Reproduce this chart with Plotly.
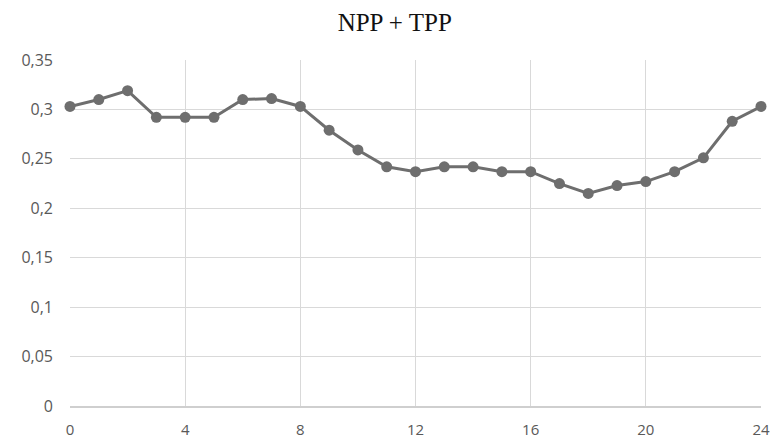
import plotly.graph_objects as go

hours = list(range(0, 25))
values = [0.303, 0.310, 0.319, 0.292, 0.292, 0.292, 0.310, 0.311, 0.303,
          0.279, 0.259, 0.242, 0.237, 0.242, 0.242, 0.237, 0.237, 0.225,
          0.215, 0.223, 0.227, 0.237, 0.251, 0.288, 0.303]

x_ticks = [0, 4, 8, 12, 16, 20, 24]
y_ticks = [0, 0.05, 0.1, 0.15, 0.2, 0.25, 0.3, 0.35]
y_labels = ["0", "0,05", "0,1", "0,15", "0,2", "0,25", "0,3", "0,35"]
title = "NPP + TPP"

fig = go.Figure()
fig.add_trace(go.Scatter(
    x=hours, y=values, mode="lines+markers",
    line=dict(color="#6e6e6e", width=3),
    marker=dict(color="#6e6e6e", size=11),
    cliponaxis=False,
))

fig.update_layout(
    width=771, height=441,
    margin=dict(l=70, r=10, t=60, b=35, autoexpand=False),
    paper_bgcolor="white", plot_bgcolor="white",
    showlegend=False,
    title=dict(text=title, x=0.512, xanchor="center", y=0.95, yanchor="middle",
               font=dict(family="Liberation Serif", size=25, color="#111111")),
    font=dict(family="Open Sans", size=16, color="#595959"),
)
fig.update_xaxes(
    range=[0, 24], tickvals=x_ticks, ticktext=[str(t) for t in x_ticks],
    showgrid=True, gridcolor="#d9d9d9", gridwidth=1,
    showline=True, linecolor="#cfcfcf", linewidth=1.5,
    zeroline=False, ticks="", ticklabelstandoff=9,
    tickfont=dict(family="Open Sans", size=15, color="#595959"),
)
fig.update_yaxes(
    range=[0, 0.35], tickvals=y_ticks, ticktext=y_labels,
    showgrid=True, gridcolor="#d9d9d9", gridwidth=1,
    zeroline=False, ticks="", ticklabelstandoff=16,
    tickfont=dict(family="Open Sans", size=16, color="#595959"),
)

fig.write_html("out.html", config={"displayModeBar": False},
               post_script="document.body.style.margin='0';document.body.style.overflow='hidden';")
